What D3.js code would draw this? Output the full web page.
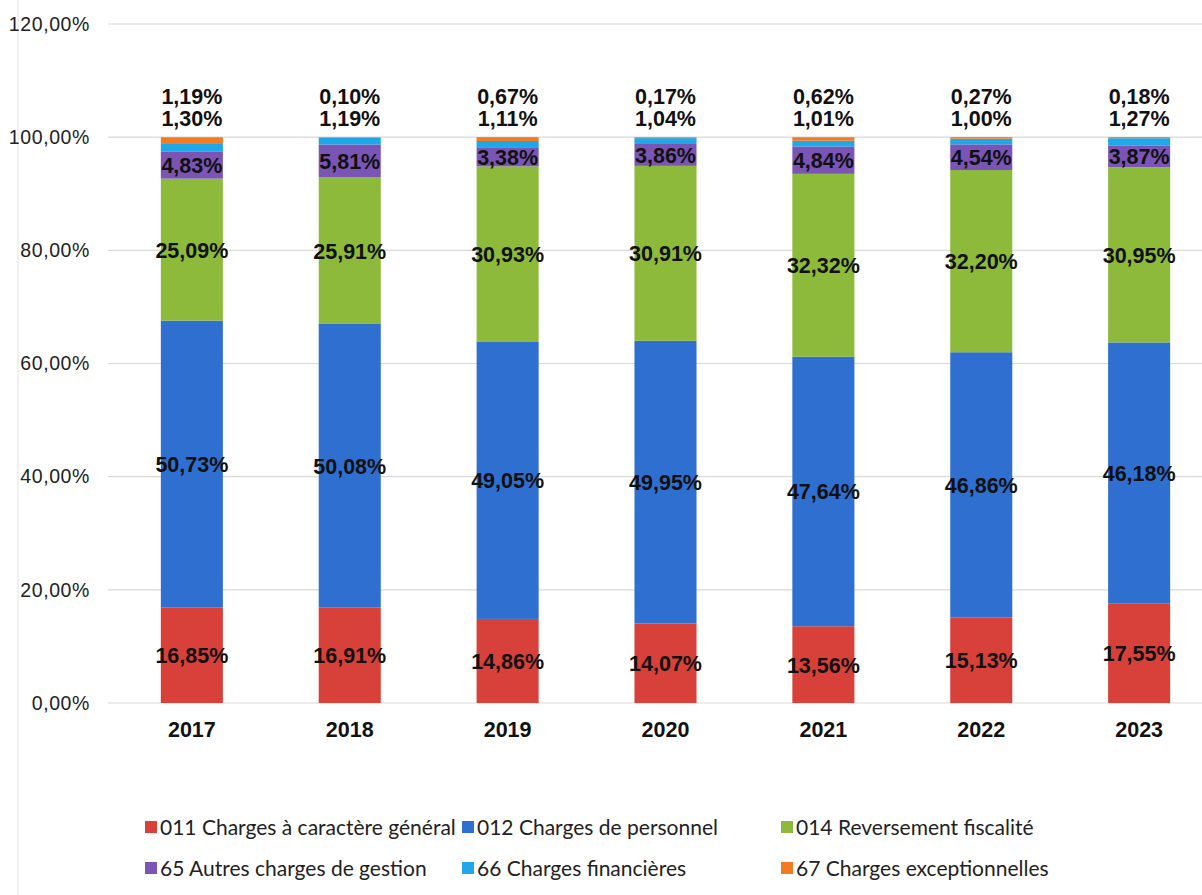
<!DOCTYPE html>
<html><head><meta charset="utf-8">
<script src="https://cdn.jsdelivr.net/npm/d3@7/dist/d3.min.js"></script>
<style>body{margin:0;background:#fff;}svg{display:block;}</style>
</head><body>
<svg id="c" width="1202" height="895"></svg>
<script>
const years = ["2017","2018","2019","2020","2021","2022","2023"];
const seriesNames = ["011 Charges à caractère général","012 Charges de personnel","014 Reversement fiscalité","65 Autres charges de gestion","66 Charges financières","67 Charges exceptionnelles"];
const s011 = [16.85,16.91,14.86,14.07,13.56,15.13,17.55];
const s012 = [50.73,50.08,49.05,49.95,47.64,46.86,46.18];
const s014 = [25.09,25.91,30.93,30.91,32.32,32.20,30.95];
const s65  = [4.83,5.81,3.38,3.86,4.84,4.54,3.87];
const s66  = [1.30,1.19,1.11,1.04,1.01,1.00,1.27];
const s67  = [1.19,0.10,0.67,0.17,0.62,0.27,0.18];
const yTicks = [0,20,40,60,80,100,120];
const colors = ["#d8403a","#2f6fd0","#8dba3a","#7a55b5","#1ea8e8","#f07b22"];

const allSeries = [s011,s012,s014,s65,s66,s67];
const rows = years.map((y,i)=>{const r={year:y}; allSeries.forEach((s,k)=>r["k"+k]=s[i]); return r;});
const keys = allSeries.map((_,k)=>"k"+k);
const stacked = d3.stack().keys(keys)(rows);

const svg = d3.select("#c");
const x = d3.scaleBand().domain(years).range([113,1218]).paddingInner(0.607).paddingOuter(0.303);
const y = d3.scaleLinear().domain([0,120]).range([703,24]);
const fmt = v => d3.format(".2f")(v).replace(".",",") + "%";

// faint scan border
svg.append("line").attr("x1",18).attr("x2",18).attr("y1",0).attr("y2",895).attr("stroke","#ececec").attr("stroke-width",1.5);

// gridlines
svg.append("g").selectAll("line").data(yTicks).join("line")
  .attr("x1",108).attr("x2",1202).attr("y1",d=>y(d)).attr("y2",d=>y(d))
  .attr("stroke","#d9d9d9").attr("stroke-width",1.2);

// y axis labels
const yAxis = d3.axisLeft(y).tickValues(yTicks).tickFormat(d=>d3.format(".2f")(d).replace(".",",")+"%").tickSize(0).tickPadding(0);
const ya = svg.append("g").attr("transform","translate(90,0)").call(yAxis);
ya.select(".domain").remove();
ya.selectAll("text").attr("font-family","'Liberation Sans', Arial, sans-serif").attr("font-size",19.5).attr("letter-spacing","0.6px").attr("fill","#222");

// bars
const g = svg.append("g");
stacked.forEach((layer,k)=>{
  g.append("g").attr("fill",colors[k]).selectAll("rect").data(layer).join("rect")
    .attr("x",d=>x(d.data.year)).attr("width",x.bandwidth())
    .attr("y",d=>y(d[1])).attr("height",d=>y(d[0])-y(d[1]));
});

// inside labels (first 4 series)
const lbl = svg.append("g").attr("font-family","'Liberation Sans', Arial, sans-serif").attr("font-weight","bold").attr("font-size",21.5).attr("fill","#111").attr("text-anchor","middle");
stacked.slice(0,4).forEach((layer,k)=>{
  lbl.append("g").selectAll("text").data(layer).join("text")
    .attr("x",d=>x(d.data.year)+x.bandwidth()/2)
    .attr("y",d=>y((d[0]+d[1])/2)+8)
    .text((d,i)=>fmt(allSeries[k][i]));
});
// top labels: 66 lower, 67 upper
lbl.append("g").selectAll("text").data(stacked[4]).join("text")
  .attr("x",d=>x(d.data.year)+x.bandwidth()/2).attr("y",d=>y(100)-11)
  .text((d,i)=>fmt(s66[i]));
lbl.append("g").selectAll("text").data(stacked[5]).join("text")
  .attr("x",d=>x(d.data.year)+x.bandwidth()/2).attr("y",d=>y(100)-33)
  .text((d,i)=>fmt(s67[i]));

// x axis labels
const xAxis = d3.axisBottom(x).tickSize(0).tickPadding(0);
const xa = svg.append("g").attr("transform","translate(0,737)").call(xAxis);
xa.select(".domain").remove();
xa.selectAll("text").attr("font-family","'Liberation Sans', Arial, sans-serif").attr("font-weight","bold").attr("font-size",21.5).attr("fill","#111").attr("dy","0");

// legend
const legPos = [[145,827],[462,827],[781,827],[145,868],[462,868],[781,868]];
const leg = svg.append("g").attr("font-family","Lato, sans-serif").attr("font-size",21).attr("fill","#222");
seriesNames.forEach((n,k)=>{
  const gg = leg.append("g").attr("transform",`translate(${legPos[k][0]},${legPos[k][1]})`);
  gg.append("rect").attr("x",0).attr("y",-6).attr("width",12).attr("height",12).attr("fill",colors[k]);
  gg.append("text").attr("x",15).attr("y",8).text(n);
});
</script>
</body></html>
